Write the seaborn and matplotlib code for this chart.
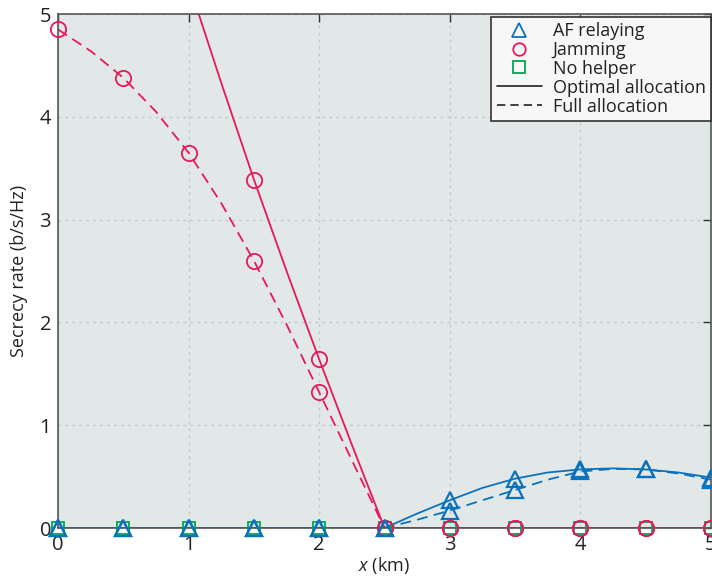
import numpy as np
import pandas as pd
import matplotlib
matplotlib.use("Agg")
import matplotlib.pyplot as plt
from matplotlib.lines import Line2D
import seaborn as sns

sns.set_style("white")
plt.rcParams['font.family'] = ['Open Sans', 'DejaVu Sans']
plt.rcParams['mathtext.fontset'] = 'custom'
plt.rcParams['mathtext.it'] = 'Open Sans:italic'
plt.rcParams['mathtext.rm'] = 'Open Sans'

# marker positions (km) and values
x_mark = [0, 0.5, 1, 1.5, 2, 2.5, 3, 3.5, 4, 4.5, 5]
af_opt_mark = [0, 0, 0, 0, 0, 0, 0.27, 0.48, 0.57, 0.57, 0.49]
af_full_mark = [0, 0, 0, 0, 0, 0, 0.17, 0.37, 0.55, 0.57, 0.47]
jam_opt_mark = [8.6, 7.3, 5.3, 3.39, 1.64, 0, 0, 0, 0, 0, 0]
jam_full_mark = [4.85, 4.38, 3.65, 2.6, 1.32, 0, 0, 0, 0, 0, 0]
none_mark = [0, 0, 0, 0, 0, 0, 0, 0, 0, 0, 0]

# line samples (km)
x_line = [0, 0.25, 0.5, 0.75, 1, 1.25, 1.5, 1.75, 2, 2.25, 2.5,
          2.75, 3, 3.25, 3.5, 3.75, 4, 4.25, 4.5, 4.75, 5]
af_opt_line = [0, 0, 0, 0, 0, 0, 0, 0, 0, 0, 0,
               0.14, 0.27, 0.39, 0.48, 0.54, 0.57, 0.58, 0.57, 0.54, 0.49]
af_full_line = [0, 0, 0, 0, 0, 0, 0, 0, 0, 0, 0,
                0.08, 0.17, 0.27, 0.37, 0.47, 0.55, 0.575, 0.57, 0.53, 0.47]
jam_opt_line = [8.6, 7.9, 7.3, 6.3, 5.3, 4.33, 3.39, 2.5, 1.64, 0.81, 0,
                0, 0, 0, 0, 0, 0, 0, 0, 0, 0]
jam_full_line = [4.85, 4.64, 4.38, 4.05, 3.65, 3.16, 2.6, 1.98, 1.32, 0.66, 0,
                 0, 0, 0, 0, 0, 0, 0, 0, 0, 0]
none_line = [0] * len(x_line)

BLUE = "#0a72bc"
RED = "#e8175d"
GREEN = "#00a651"
DASH = (0, (6, 3.5))

fig = plt.figure(figsize=(7.12, 5.77), dpi=100)
ax = fig.add_axes([58 / 712, 49 / 577, 653 / 712, 514 / 577])
ax.set_facecolor("#e2e8e8")


def marks(y, marker, color, ms, mew):
    ax.plot(x_mark, y, ls="none", marker=marker, ms=ms, mfc="none",
            mec=color, mew=mew, clip_on=False, zorder=3)


# no helper (drawn first, underneath)
sns.lineplot(x=x_line, y=none_line, color=GREEN, lw=1.3, ax=ax)
marks(none_mark, "s", GREEN, 9, 1.3)

# jamming
sns.lineplot(x=x_line, y=jam_opt_line, color=RED, lw=1.3, ax=ax)
sns.lineplot(x=x_line, y=jam_full_line, color=RED, lw=1.3, ax=ax, linestyle=DASH)
marks(jam_opt_mark, "o", RED, 11, 1.3)
marks(jam_full_mark, "o", RED, 11, 1.3)

# AF relaying
sns.lineplot(x=x_line, y=af_opt_line, color=BLUE, lw=1.3, ax=ax)
sns.lineplot(x=x_line, y=af_full_line, color=BLUE, lw=1.3, ax=ax, linestyle=DASH)
marks(af_opt_mark, "^", BLUE, 11, 1.6)
marks(af_full_mark, "^", BLUE, 11, 1.6)

ax.set_xlim(0, 5)
ax.set_ylim(0, 5)
ax.set_xticks([0, 1, 2, 3, 4, 5])
ax.set_yticks([0, 1, 2, 3, 4, 5])
ax.grid(True, color="#c4c9c9", linestyle=(0, (2, 3)), linewidth=1)
ax.tick_params(direction="in", length=6, width=1, color="#333333",
               top=True, right=True, labelsize=14.5, labelcolor="#222222", pad=5)
for s in ax.spines.values():
    s.set_color("#555555")
    s.set_linewidth(1.2)

ax.set_xlabel("$\\it{x}$ (km)", fontsize=13, color="#222222", labelpad=0)
ax.set_ylabel("Secrecy rate (b/s/Hz)", fontsize=13, color="#222222", labelpad=8)

handles = [
    Line2D([], [], ls="none", marker="^", ms=10, mfc="none", mec=BLUE, mew=1.3),
    Line2D([], [], ls="none", marker="o", ms=9, mfc="none", mec=RED, mew=1.3),
    Line2D([], [], ls="none", marker="s", ms=8, mfc="none", mec=GREEN, mew=1.3),
    Line2D([], [], color="#222222", lw=1.2),
    Line2D([], [], color="#222222", lw=1.2, linestyle=(0, (5, 3))),
]
labels = ["AF relaying", "Jamming", "No helper", "Optimal allocation", "Full allocation"]
leg = ax.legend(handles, labels, loc="upper right", bbox_to_anchor=(1.0, 0.995),
                borderaxespad=0, fontsize=13, frameon=True, fancybox=False,
                labelspacing=0.05, handlelength=2.5, handletextpad=0.6,
                borderpad=0.3)
leg.get_frame().set_edgecolor("#333333")
leg.get_frame().set_facecolor("#f7f7f7")
leg.get_frame().set_alpha(1)
leg.get_frame().set_linewidth(1.2)
leg.set_zorder(5)
for t in leg.get_texts():
    t.set_color("#222222")

fig.savefig("out.png", dpi=100)
